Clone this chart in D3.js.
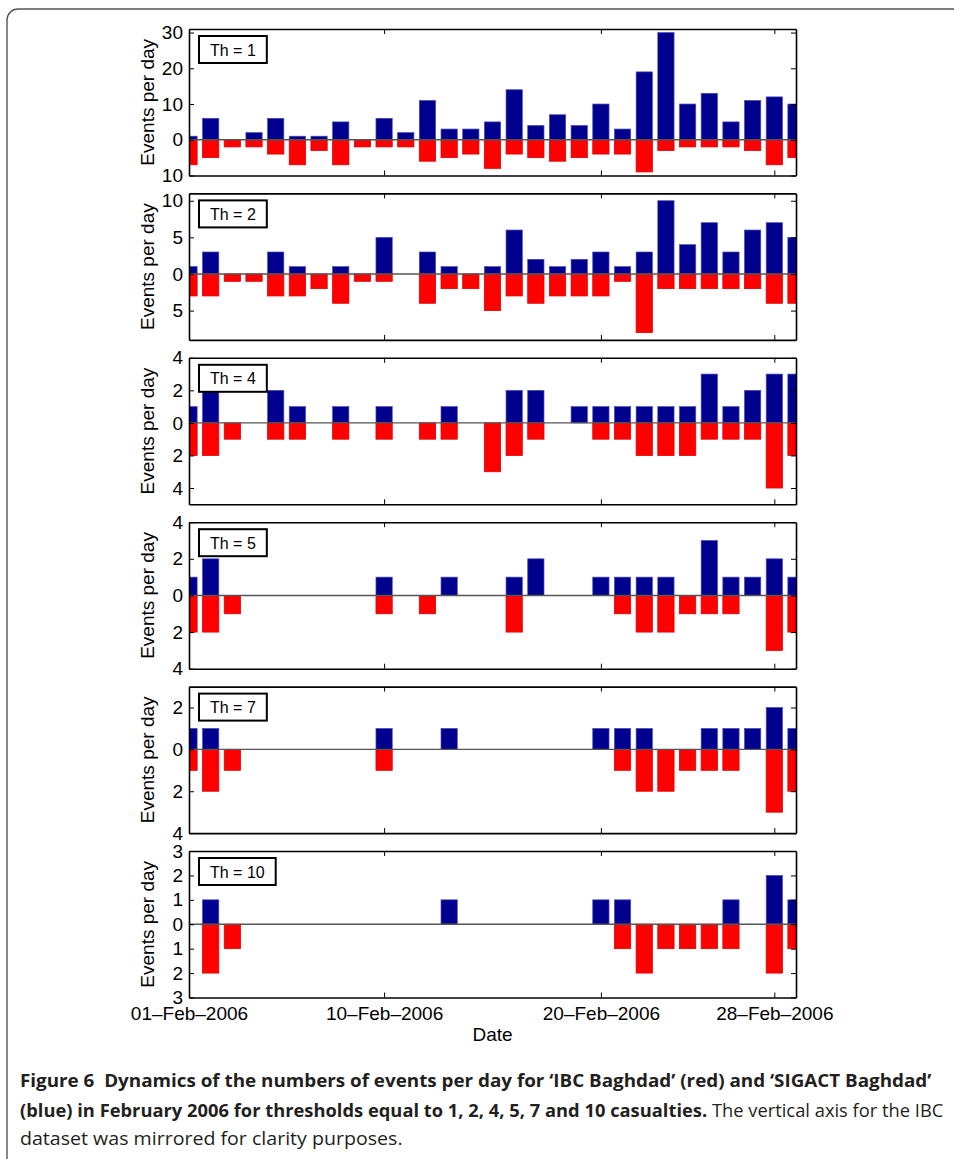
<!DOCTYPE html>
<html>
<head>
<meta charset="utf-8">
<script src="https://cdn.jsdelivr.net/npm/d3@7"></script>
<style>
  body { margin: 0; background: #fff; }
  .axis text { font-family: "Liberation Sans", Arial, sans-serif; font-size: 19px; fill: #000; }
  .axis path { stroke: #000; stroke-width: 1.6; }
  .axis line { stroke: #000; stroke-width: 1; }
</style>
</head>
<body>
<div class="chart"></div>
<script>
// thresholds (casualties) for each panel
const thresholds = [1, 2, 4, 5, 7, 10];

// events per day, 01-Feb-2006 .. 01-Mar-2006 (29 days)
// SIGACT Baghdad = blue (up), IBC Baghdad = red (mirrored, down)
const sigact1 = [1, 6, 0, 2, 6, 1, 1, 5, 0, 6, 2, 11, 3, 3, 5, 14, 4, 7, 4, 10, 3, 19, 30, 10, 13, 5, 11, 12, 10];
const ibc1    = [7, 5, 2, 2, 4, 7, 3, 7, 2, 2, 2, 6, 5, 4, 8, 4, 5, 6, 5, 4, 4, 9, 3, 2, 2, 2, 3, 7, 5];
const sigact2 = [1, 3, 0, 0, 3, 1, 0, 1, 0, 5, 0, 3, 1, 0, 1, 6, 2, 1, 2, 3, 1, 3, 10, 4, 7, 3, 6, 7, 5];
const ibc2    = [3, 3, 1, 1, 3, 3, 2, 4, 1, 1, 0, 4, 2, 2, 5, 3, 4, 3, 3, 3, 1, 8, 2, 2, 2, 2, 2, 4, 4];
const sigact4 = [1, 2, 0, 0, 2, 1, 0, 1, 0, 1, 0, 0, 1, 0, 0, 2, 2, 0, 1, 1, 1, 1, 1, 1, 3, 1, 2, 3, 3];
const ibc4    = [2, 2, 1, 0, 1, 1, 0, 1, 0, 1, 0, 1, 1, 0, 3, 2, 1, 0, 0, 1, 1, 2, 2, 2, 1, 1, 1, 4, 2];
const sigact5 = [1, 2, 0, 0, 0, 0, 0, 0, 0, 1, 0, 0, 1, 0, 0, 1, 2, 0, 0, 1, 1, 1, 1, 0, 3, 1, 1, 2, 1];
const ibc5    = [2, 2, 1, 0, 0, 0, 0, 0, 0, 1, 0, 1, 0, 0, 0, 2, 0, 0, 0, 0, 1, 2, 2, 1, 1, 1, 0, 3, 2];
const sigact7 = [1, 1, 0, 0, 0, 0, 0, 0, 0, 1, 0, 0, 1, 0, 0, 0, 0, 0, 0, 1, 1, 1, 0, 0, 1, 1, 1, 2, 1];
const ibc7    = [1, 2, 1, 0, 0, 0, 0, 0, 0, 1, 0, 0, 0, 0, 0, 0, 0, 0, 0, 0, 1, 2, 2, 1, 1, 1, 0, 3, 2];
const sigact10 = [0, 1, 0, 0, 0, 0, 0, 0, 0, 0, 0, 0, 1, 0, 0, 0, 0, 0, 0, 1, 1, 0, 0, 0, 0, 1, 0, 2, 1];
const ibc10    = [0, 2, 1, 0, 0, 0, 0, 0, 0, 0, 0, 0, 0, 0, 0, 0, 0, 0, 0, 0, 1, 2, 1, 1, 1, 1, 0, 2, 1];

// y tick values (labels are shown as absolute values)
const yTicks1 = [-10, 0, 10, 20, 30];
const yTicks2 = [-5, 0, 5, 10];
const yTicks4 = [-4, -2, 0, 2, 4];
const yTicks5 = [-4, -2, 0, 2, 4];
const yTicks7 = [-4, -2, 0, 2];
const yTicks10 = [-3, -2, -1, 0, 1, 2, 3];

const xTickDays = [1, 10, 20, 28];
const xTickLabels = ["01\u2013Feb\u20132006", "10\u2013Feb\u20132006", "20\u2013Feb\u20132006", "28\u2013Feb\u20132006"];

const panels = [
  { th: thresholds[0], blue: sigact1, red: ibc1, ticks: yTicks1 },
  { th: thresholds[1], blue: sigact2, red: ibc2, ticks: yTicks2 },
  { th: thresholds[2], blue: sigact4, red: ibc4, ticks: yTicks4 },
  { th: thresholds[3], blue: sigact5, red: ibc5, ticks: yTicks5 },
  { th: thresholds[4], blue: sigact7, red: ibc7, ticks: yTicks7 },
  { th: thresholds[5], blue: sigact10, red: ibc10, ticks: yTicks10 }
];

const W = 954, H = 1159;
const left = 189, right = 796;
const top0 = 29, panelH = 146.5, step = 164.4;
const w = right - left;

const svg = d3.select(".chart").append("svg")
  .attr("width", W)
  .attr("height", H);

// outer frame of the figure
svg.append("rect")
  .attr("x", 7).attr("y", 9)
  .attr("width", 1000).attr("height", 1200)
  .attr("rx", 11)
  .attr("fill", "none")
  .attr("stroke", "#555")
  .attr("stroke-width", 1.4);

const days = d3.timeDays(new Date(2006, 1, 1), new Date(2006, 2, 2));
const x = d3.scaleTime()
  .domain([days[0], days[days.length - 1]])
  .range([0, w]);
const dayW = x(days[1]) - x(days[0]);
const barW = dayW * 0.75;
const xTickDates = xTickDays.map(d => new Date(2006, 1, d));

panels.forEach(function(p, i) {
  const top = top0 + i * step;
  const g = svg.append("g").attr("transform", "translate(" + left + "," + top + ")");

  const y = d3.scaleLinear()
    .domain([-(d3.max(p.red) + 1), d3.max(p.blue) + 1])
    .range([panelH, 0]);

  g.append("clipPath").attr("id", "clip" + i)
    .append("rect").attr("width", w).attr("height", panelH);

  const bars = g.append("g").attr("clip-path", "url(#clip" + i + ")");

  // baseline
  g.append("line")
    .attr("x1", 0).attr("x2", w)
    .attr("y1", y(0)).attr("y2", y(0))
    .attr("stroke", "#555")
    .attr("stroke-width", 1.4);

  bars.selectAll(".blue")
    .data(p.blue)
    .enter().append("rect")
    .attr("class", "blue")
    .attr("x", (d, j) => x(days[j]) - barW / 2)
    .attr("width", barW)
    .attr("y", d => y(d))
    .attr("height", d => y(0) - y(d))
    .attr("fill", "#00008f")
    .attr("stroke", "#4a4ab8")
    .attr("stroke-width", 0.7);

  // zero-height red bars show up as a thin dark red dash on the baseline
  bars.selectAll(".red")
    .data(p.red)
    .enter().append("rect")
    .attr("class", "red")
    .attr("x", (d, j) => x(days[j]) - barW / 2)
    .attr("width", barW)
    .attr("y", y(0))
    .attr("height", d => y(-d) - y(0))
    .attr("fill", "#ff0000")
    .attr("stroke", d => d === 0 ? "#8a1020" : "#e00000")
    .attr("stroke-width", d => d === 0 ? 1.4 : 0.8);

  // box with inward ticks on all four sides
  g.append("g").attr("class", "axis")
    .call(d3.axisLeft(y).tickValues(p.ticks).tickSize(-5).tickSizeOuter(0).tickPadding(6)
      .tickFormat(d => Math.abs(d)));
  g.append("g").attr("class", "axis")
    .attr("transform", "translate(" + w + ",0)")
    .call(d3.axisRight(y).tickValues(p.ticks).tickSize(-5).tickSizeOuter(0).tickFormat(""));
  g.append("g").attr("class", "axis")
    .call(d3.axisTop(x).tickValues(xTickDates).tickSize(-5).tickSizeOuter(0).tickFormat(""));
  g.append("g").attr("class", "axis")
    .attr("transform", "translate(0," + panelH + ")")
    .call(d3.axisBottom(x).tickValues(xTickDates).tickSize(-5).tickSizeOuter(0).tickPadding(9)
      .tickFormat((d, k) => i === panels.length - 1 ? xTickLabels[k] : ""));

  // y label
  g.append("text")
    .attr("transform", "translate(" + (147 - left) + "," + (panelH / 2) + ") rotate(-90)")
    .attr("text-anchor", "middle")
    .attr("dominant-baseline", "central")
    .style("font-family", "Liberation Sans, Arial, sans-serif")
    .style("font-size", "19px")
    .text("Events per day");

  // threshold box
  const lab = g.append("g").attr("transform", "translate(10,7)");
  const t = lab.append("text")
    .attr("x", 11).attr("y", 14)
    .attr("dominant-baseline", "central")
    .style("font-family", "Liberation Sans, Arial, sans-serif")
    .style("font-size", "16px")
    .text("Th = " + p.th);
  const tw = t.node().getComputedTextLength();
  lab.insert("rect", "text")
    .attr("width", tw + 22).attr("height", 27)
    .attr("fill", "#fff")
    .attr("stroke", "#000")
    .attr("stroke-width", 2);
});

// x label
svg.append("text")
  .attr("x", left + w / 2).attr("y", 1041)
  .attr("text-anchor", "middle")
  .style("font-family", "Liberation Sans, Arial, sans-serif")
  .style("font-size", "19px")
  .text("Date");

// caption
const capFont = "'Open Sans', 'Noto Sans', sans-serif";
const lines = [
  { y: 1087, w: 912, parts: [["Figure 6\u00a0\u00a0Dynamics of the numbers of events per day for \u2018IBC Baghdad\u2019 (red) and \u2018SIGACT Baghdad\u2019", 700]] },
  { y: 1117, w: 924, parts: [["(blue) in February 2006 for thresholds equal to 1, 2, 4, 5, 7 and 10 casualties.", 700], [" The vertical axis for the IBC", 400]] },
  { y: 1145, w: 383, parts: [["dataset was mirrored for clarity purposes.", 400]] }
];
lines.forEach(function(l) {
  const txt = svg.append("text")
    .attr("y", l.y)
    .style("font-family", capFont)
    .style("font-size", "18px")
    .style("white-space", "pre")
    .attr("fill", "#231f20");
  l.parts.forEach(function(pt) {
    txt.append("tspan").attr("font-weight", pt[1]).text(pt[0]);
  });
  const len = txt.node().getComputedTextLength();
  txt.attr("transform", "translate(20,0) scale(" + (l.w / len) + ",1)");
});
</script>
</body>
</html>
